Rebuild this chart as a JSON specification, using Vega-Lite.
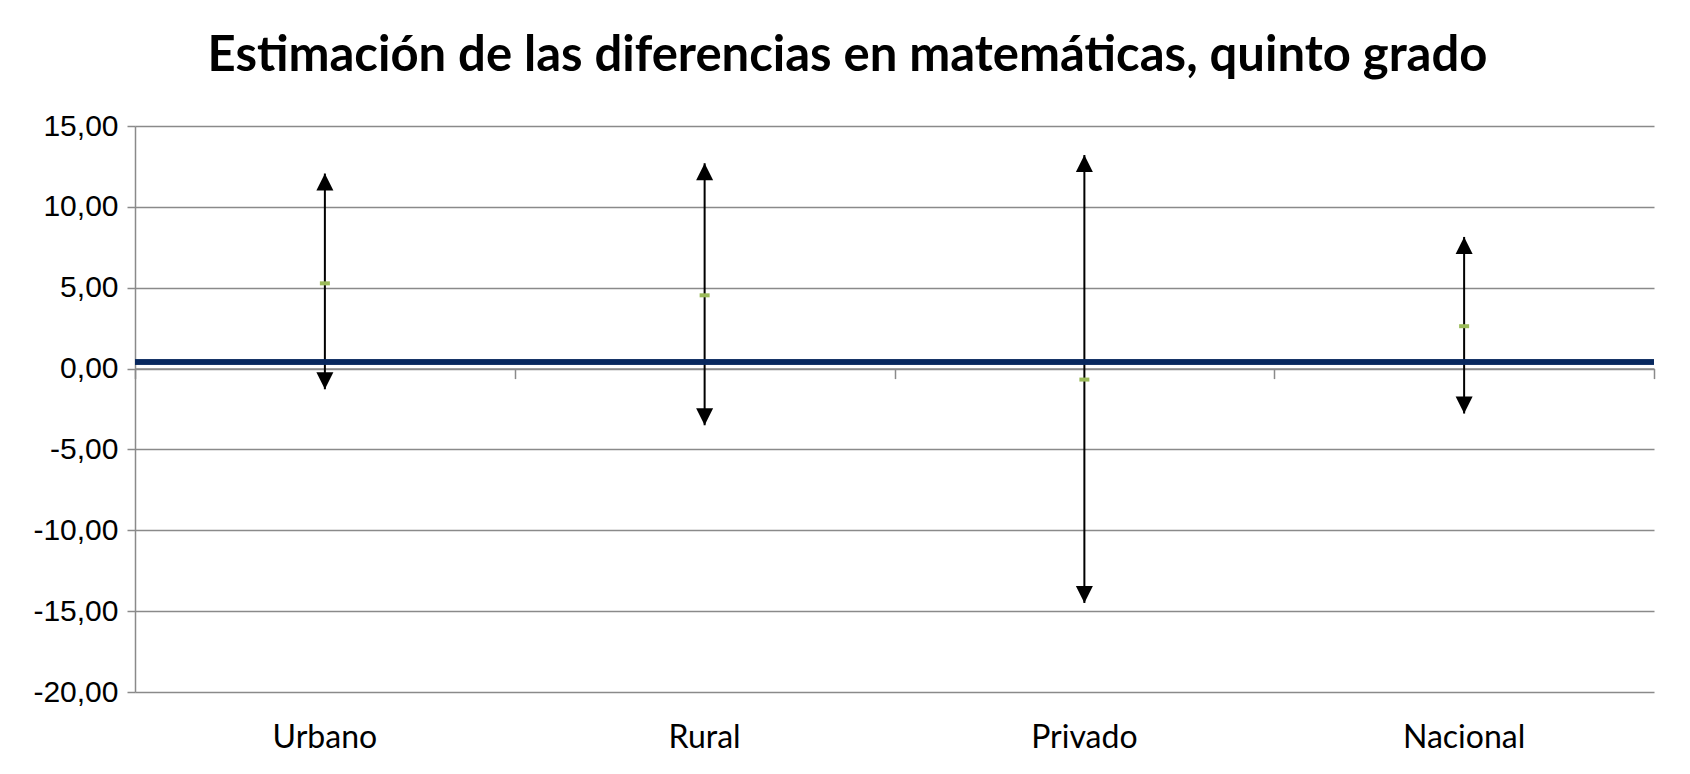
{
  "$schema": "https://vega.github.io/schema/vega-lite/v6.json",
  "autosize": {"type": "none"},
  "width": 1519,
  "height": 566,
  "padding": {"left": 135, "top": 126, "right": 36, "bottom": 82},
  "background": "white",
  "config": {"view": {"stroke": null}},
  "title": {
    "text": "Estimación de las diferencias en matemáticas, quinto grado",
    "font": "Lato",
    "fontWeight": "bold",
    "fontSize": 49,
    "color": "black",
    "anchor": "middle",
    "dx": -47,
    "baseline": "alphabetic",
    "offset": -9
  },
  "data": {
    "values": [
      {"grupo": "Urbano", "estimacion": 5.27, "inferior": -1.28, "superior": 12.06},
      {"grupo": "Rural", "estimacion": 4.53, "inferior": -3.51, "superior": 12.7},
      {"grupo": "Privado", "estimacion": -0.68, "inferior": -14.5, "superior": 13.2},
      {"grupo": "Nacional", "estimacion": 2.62, "inferior": -2.78, "superior": 8.14}
    ]
  },
  "resolve": {"axis": {"x": "independent"}},
  "layer": [
    {
      "mark": {"type": "rule", "color": "black", "strokeWidth": 2},
      "encoding": {
        "x": {
          "field": "grupo", "type": "nominal", "sort": null,
          "scale": {"paddingInner": 0, "paddingOuter": 0},
          "axis": {
            "title": null, "orient": "bottom", "domain": false, "ticks": false,
            "labelAngle": 0, "labelFont": "Lato", "labelFontSize": 32, "labelColor": "black",
            "labelPadding": 30, "grid": false
          }
        },
        "y": {
          "field": "inferior", "type": "quantitative",
          "scale": {"domain": [-20, 15], "nice": false, "zero": false},
          "axis": {
            "title": null, "values": [-20, -15, -10, -5, 0, 5, 10, 15],
            "labelExpr": "(datum.value < 0 ? '-' : '') + replace(format(abs(datum.value), '.2f'), '.', ',')",
            "labelFont": "Liberation Sans", "labelFontSize": 30, "labelColor": "black",
            "labelPadding": 9, "labelFlush": false,
            "domainColor": "#8a8a8a", "domainWidth": 1.5,
            "tickColor": "#8a8a8a", "tickWidth": 1.5, "tickSize": 8,
            "grid": true, "gridColor": "#8a8a8a", "gridWidth": 1.5
          }
        },
        "y2": {"field": "superior"}
      }
    },
    {
      "mark": {"type": "point", "shape": "M0,0L-0.5,1L0.5,1Z", "filled": true, "color": "black", "opacity": 1, "size": 1156},
      "encoding": {
        "x": {"field": "grupo", "type": "nominal", "sort": null, "axis": null},
        "y": {"field": "superior", "type": "quantitative"}
      }
    },
    {
      "mark": {"type": "point", "shape": "M0,0L-0.5,-1L0.5,-1Z", "filled": true, "color": "black", "opacity": 1, "size": 1156},
      "encoding": {
        "x": {"field": "grupo", "type": "nominal", "sort": null, "axis": null},
        "y": {"field": "inferior", "type": "quantitative"}
      }
    },
    {
      "mark": {"type": "rule", "color": "#08285E", "strokeWidth": 5},
      "encoding": {"y": {"datum": 0.4, "type": "quantitative"}}
    },
    {
      "mark": {"type": "tick", "orient": "horizontal", "color": "#9BBB59", "size": 10, "thickness": 4, "opacity": 1},
      "encoding": {
        "x": {
          "field": "grupo", "type": "nominal", "sort": null,
          "axis": {
            "title": null, "orient": "bottom", "offset": -323.4, "labels": false,
            "tickBand": "extent", "ticks": true, "tickSize": 10, "tickColor": "#8a8a8a", "tickWidth": 1.5,
            "domain": true, "domainColor": "#8a8a8a", "domainWidth": 1.5, "grid": false
          }
        },
        "y": {"field": "estimacion", "type": "quantitative"}
      }
    }
  ]
}
